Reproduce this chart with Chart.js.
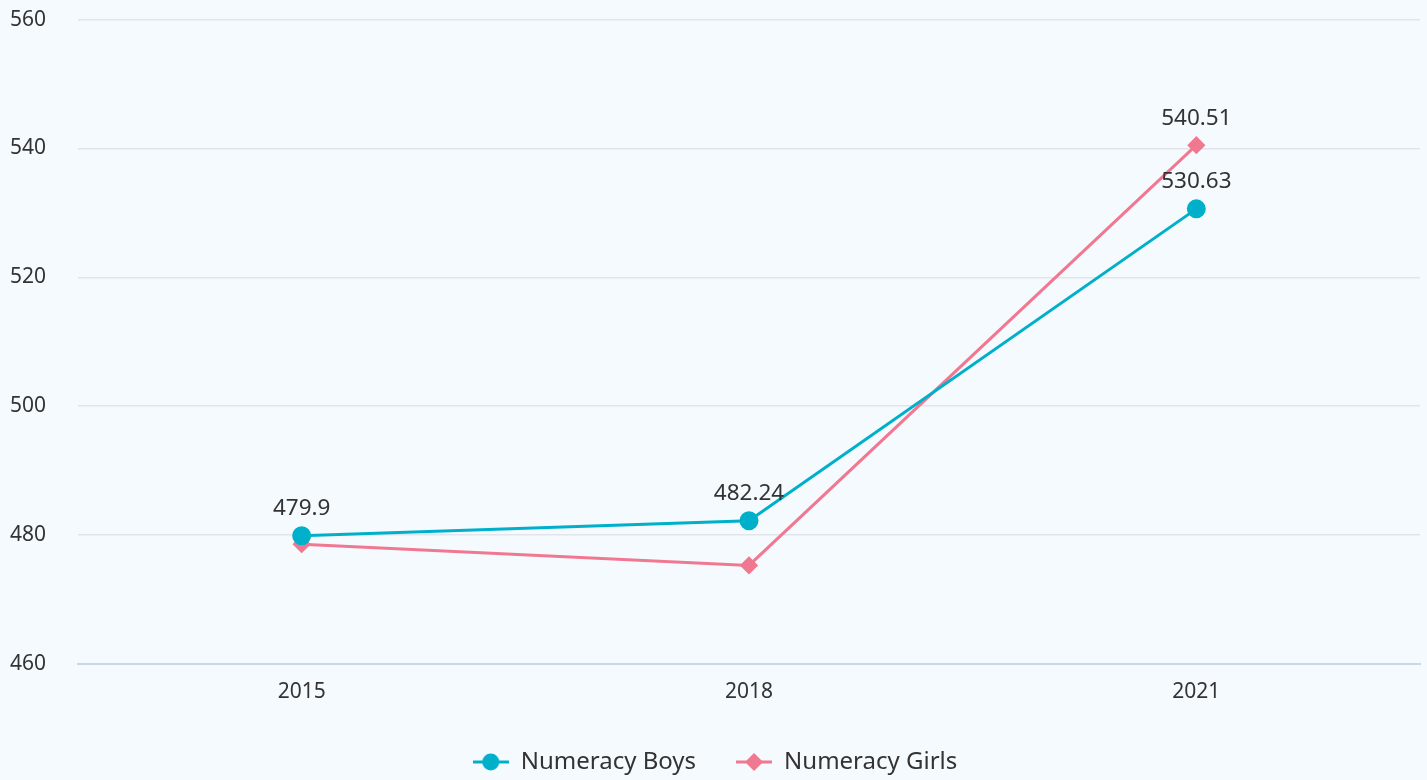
<!DOCTYPE html>
<html>
<head>
<meta charset="utf-8">
<script src="https://cdn.jsdelivr.net/npm/chart.js@4.4.1/dist/chart.umd.min.js"></script>
<style>
  html, body { margin: 0; padding: 0; background: #f5fafe; }
  #wrap { width: 1427px; height: 780px; }
</style>
</head>
<body>
<div id="wrap"><canvas id="chart-container"></canvas></div>
<script>
const years = ["2015", "2018", "2021"];
const boys = [479.9, 482.24, 530.63];
const girls = [478.6, 475.3, 540.51];
const boysLabels = [true, true, true];
const girlsLabels = [false, false, true];
const yTicks = [460, 480, 500, 520, 540, 560];

const BOYS_COLOR = "rgb(0, 176, 202)";
const GIRLS_COLOR = "rgb(240, 120, 144)";
const FONT = "'Noto Sans', sans-serif";

// legend icon: short line with the marker in the middle
function legendIcon(color, shape) {
    const c = document.createElement("canvas");
    c.width = 36;
    c.height = 18;
    const ctx = c.getContext("2d");
    ctx.strokeStyle = color;
    ctx.fillStyle = color;
    ctx.lineWidth = 3;
    ctx.beginPath();
    ctx.moveTo(0, 9);
    ctx.lineTo(36, 9);
    ctx.stroke();
    ctx.beginPath();
    if (shape === "circle") {
        ctx.arc(18, 9, 8.5, 0, Math.PI * 2);
    } else {
        ctx.moveTo(18, 0);
        ctx.lineTo(27, 9);
        ctx.lineTo(18, 18);
        ctx.lineTo(9, 9);
        ctx.closePath();
    }
    ctx.fill();
    return c;
}

const valueLabels = {
    id: "valueLabels",
    afterDatasetsDraw(chart) {
        const ctx = chart.ctx;
        ctx.save();
        ctx.font = "22.5px " + FONT;
        ctx.fillStyle = "#333333";
        ctx.textAlign = "center";
        ctx.textBaseline = "middle";
        chart.data.datasets.forEach((ds, i) => {
            const meta = chart.getDatasetMeta(i);
            meta.data.forEach((pt, j) => {
                if (!ds.showLabel[j]) return;
                ctx.fillText(String(ds.data[j]), pt.x, pt.y - 27);
            });
        });
        ctx.restore();
    },
};

new Chart(document.getElementById("chart-container"), {
    type: "line",
    data: {
        labels: years,
        datasets: [
            {
                label: "Numeracy Boys",
                data: boys,
                showLabel: boysLabels,
                borderColor: BOYS_COLOR,
                backgroundColor: BOYS_COLOR,
                borderWidth: 3,
                pointStyle: "circle",
                pointRadius: 8,
                pointHoverRadius: 8,
                tension: 0,
            },
            {
                label: "Numeracy Girls",
                data: girls,
                showLabel: girlsLabels,
                borderColor: GIRLS_COLOR,
                backgroundColor: GIRLS_COLOR,
                borderWidth: 3,
                pointStyle: "rectRot",
                pointRadius: 7,
                pointHoverRadius: 7,
                tension: 0,
            },
        ],
    },
    options: {
        responsive: true,
        maintainAspectRatio: false,
        animation: false,
        layout: { autoPadding: false, padding: { top: 0, right: 7, left: 10, bottom: 0 } },
        scales: {
            x: {
                offset: true,
                grid: { display: false, drawTicks: false },
                border: { color: "#c9d5ea", width: 2 },
                ticks: { color: "#333333", font: { family: FONT, size: 21 }, padding: 15 },
                afterFit: (axis) => {
                    axis.height = 46;
                },
            },
            y: {
                min: 460,
                max: 560,
                afterBuildTicks: (axis) => {
                    axis.ticks = yTicks.map((v) => ({ value: v }));
                },
                grid: { color: "#e1e5ea", lineWidth: 1.5, drawTicks: false },
                border: { display: false },
                ticks: { color: "#333333", font: { family: FONT, size: 21 }, padding: 7, crossAlign: "far" },
                afterFit: (axis) => {
                    axis.width = 68;
                },
            },
        },
        plugins: {
            legend: {
                position: "bottom",
                maxHeight: 70,
                labels: {
                    usePointStyle: true,
                    pointStyleWidth: 36,
                    color: "#333333",
                    font: { family: FONT, size: 24 },
                    padding: 40,
                    generateLabels: (chart) =>
                        chart.data.datasets.map((ds, i) => ({
                            text: ds.label,
                            fontColor: "#333333",
                            pointStyle: legendIcon(ds.borderColor, i === 0 ? "circle" : "diamond"),
                            datasetIndex: i,
                            hidden: false,
                            lineWidth: 0,
                        })),
                },
            },
            tooltip: { enabled: false },
        },
    },
    plugins: [valueLabels],
});
</script>
</body>
</html>
